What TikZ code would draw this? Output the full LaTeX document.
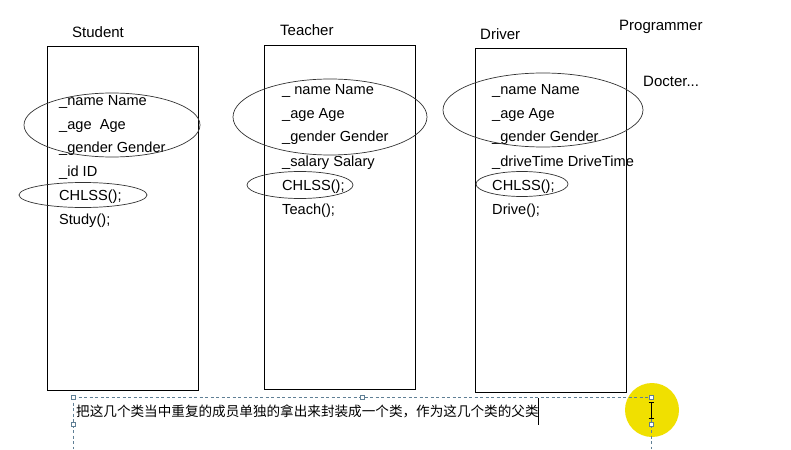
\documentclass[tikz,border=0pt]{standalone}
\usepackage{fontspec}
\setmainfont{Liberation Sans}
\newfontfamily\cjk{Noto Sans CJK SC}
\usetikzlibrary{positioning}
\definecolor{dashblue}{HTML}{5F7F95}
\definecolor{hiyellow}{HTML}{F0E000}
\tikzset{
  classbox/.style={draw=black,line width=1.1pt,minimum width=151pt,anchor=north west,inner sep=0pt},
  member/.style={anchor=base west,inner sep=0pt,font=\fontsize{14.6}{16}\selectfont},
  title/.style={anchor=base west,inner sep=0pt,font=\fontsize{15}{16}\selectfont},
  ring/.style={draw=black!80,line width=0.7pt},
  handle/.style={draw=dashblue,fill=white,line width=0.6pt,minimum size=4pt,inner sep=0pt},
  guide/.style={draw=dashblue,dashed,line width=0.7pt,dash pattern=on 3pt off 2.5pt}
}
\begin{document}
\begin{tikzpicture}[x=1pt,y=-1pt]
\useasboundingbox (0,0) rectangle (791,449);
\fill[white] (0,0) rectangle (791,449);
% boxes
\node[classbox,minimum height=344pt] (sbox) at (47,46) {};
\node[classbox,minimum height=344pt] (tbox) at (264,45) {};
\node[classbox,minimum height=344pt] (dbox) at (475,48) {};
% titles
\node[title] (st) at (72,38) {Student};
\node[title] (tt) at (280,36) {Teacher};
\node[title] (dt) at (480,40) {Driver};
\node[title] (pt) at (619,31) {Programmer};
\node[title] (dc) at (643,87) {Docter...};
% student members
\node[member] (s1) at (59,106) {\_name Name};
\node[member] (s2) at (59,130) {\_age\ \ Age};
\node[member] (s3) at (59,153) {\_gender Gender};
\node[member] (s4) at (59,176) {\_id\ ID};
\node[member] (s5) at (59,200) {CHLSS();};
\node[member] (s6) at (59,224) {Study();};
% teacher members
\node[member] (t1) at (282,95) {\_ name\ Name};
\node[member] (t2) at (282,119) {\_age\ Age};
\node[member] (t3) at (282,142) {\_gender Gender};
\node[member] (t4) at (282,166) {\_salary Salary};
\node[member] (t5) at (282,190) {CHLSS();};
\node[member] (t6) at (282,214) {Teach();};
% driver members
\node[member] (d1) at (492,95) {\_name\ Name};
\node[member] (d2) at (492,119) {\_age\ Age};
\node[member] (d3) at (492,142) {\_gender Gender};
\node[member] (d4) at (492,166) {\_driveTime DriveTime};
\node[member] (d5) at (492,190) {CHLSS();};
\node[member] (d6) at (492,214) {Drive();};
% ellipses
\draw[ring] (112,125) ellipse [x radius=88, y radius=32];
\draw[ring] (83,195) ellipse [x radius=64, y radius=12.5];
\draw[ring] (330,117) ellipse [x radius=97, y radius=38];
\draw[ring] (300,185) ellipse [x radius=53, y radius=13.5];
\draw[ring] (543,110) ellipse [x radius=100, y radius=37];
\draw[ring] (522,184) ellipse [x radius=46, y radius=12.5];
% bottom text box
\fill[hiyellow] (652,410) circle (27);
\coordinate (g1) at (73,397);
\coordinate (g2) at (651,397);
\coordinate (g3) at (73,449);
\coordinate (g4) at (651,449);
\draw[guide] (g1) -- (g2);
\draw[guide] (g1) -- (g3);
\draw[guide] (g2) -- (g4);
\node[handle] (h1) at (73,397) {};
\node[handle] (h2) at (362,397) {};
\node[handle] (h3) at (651,397) {};
\node[handle] (h4) at (73,424) {};
\node[handle] (h5) at (651,424) {};
\node[anchor=west,inner sep=0pt,font=\cjk\fontsize{13.6}{15}\selectfont] (msg) at (76,411) {把这几个类当中重复的成员单独的拿出来封装成一个类，作为这几个类的父类};
\draw[black,line width=0.9pt] (538,398) -- (538,425);
% I-beam cursor
\draw[black,line width=0.8pt] (651,402) -- (651,418) (648.5,402) -- (653.5,402) (648.5,418) -- (653.5,418);
\end{tikzpicture}
\end{document}
